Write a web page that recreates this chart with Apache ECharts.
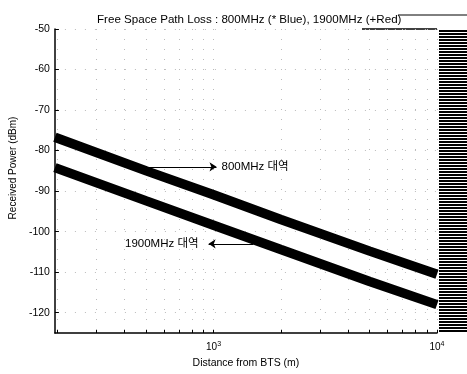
<!DOCTYPE html>
<html>
<head>
<meta charset="utf-8">
<script src="https://cdn.jsdelivr.net/npm/echarts@6/dist/echarts.min.js"></script>
<style>
  html, body { margin: 0; padding: 0; background: #fff; }
  #main { width: 467px; height: 374px; }
</style>
</head>
<body>
<div id="main"></div>
<script>
// distance from BTS (m), log axis
const dist = [195, 500, 1000, 2000, 5000, 10000];
// received power (dBm)
const rx800 = [-76.7, -85.0, -90.9, -97.0, -104.8, -110.5];
const rx1900 = [-84.2, -92.4, -98.4, -104.4, -112.3, -118.0];

const yTicks = [-120, -110, -100, -90, -80, -70, -60, -50];
const xLabels = [1000, 10000];
const xTicks = [200, 300, 400, 500, 600, 700, 800, 900, 1000, 2000, 3000, 4000, 5000, 6000, 7000, 8000, 9000, 10000];

// arrow annotations [x, y] in data units
const arrow800 = [[493, -84.0], [1031, -84.0]];
const arrow1900 = [[1507, -103.0], [950, -103.0]];

const FONT = 'Liberation Sans, Arial, "Noto Sans CJK KR", sans-serif';

// stripes for the scanned block at the right
let stripe = document.createElement('canvas');
stripe.width = 4;
stripe.height = 3;
let sc = stripe.getContext('2d');
sc.fillStyle = '#000';
sc.fillRect(0, 0, 4, 2);
sc.fillStyle = '#fff';
sc.fillRect(0, 2, 4, 1);

const toXY = (xs, ys) => xs.map((x, i) => [x, ys[i]]);

let chart = echarts.init(document.getElementById('main'), null, {renderer: 'canvas'});

let option = {
    backgroundColor: '#fff',
    animation: false,
    title: {
        text: 'Free Space Path Loss : 800MHz (* Blue), 1900MHz (+Red)',
        left: 92,
        top: 9,
        textStyle: {fontFamily: FONT, fontSize: 11.6, fontWeight: 'normal', color: '#000'}
    },
    grid: {left: 52, right: 30, top: 29, bottom: 41, containLabel: false},
    xAxis: {
        type: 'log',
        min: 195,
        max: 10000,
        name: 'Distance from BTS (m)',
        nameLocation: 'middle',
        nameGap: 25,
        nameTextStyle: {fontFamily: FONT, fontSize: 10.5, color: '#000'},
        axisLine: {lineStyle: {color: '#000', width: 1.5}},
        axisTick: {inside: true, length: 3, customValues: xTicks, lineStyle: {color: '#000'}},
        axisLabel: {
            customValues: xLabels,
            margin: 8,
            formatter: v => '{b|10}{s|' + Math.round(Math.log10(v)) + '}',
            rich: {
                b: {fontFamily: FONT, fontSize: 10, color: '#000'},
                s: {fontFamily: FONT, fontSize: 7, color: '#000', verticalAlign: 'top', padding: [0, 0, 6, 0]}
            }
        },
        splitLine: {show: true, lineStyle: {color: '#bbb', type: [1, 9], width: 1}},
        minorTick: {show: false}
    },
    yAxis: {
        type: 'value',
        min: -125,
        max: -50,
        name: 'Received Power (dBm)',
        nameLocation: 'middle',
        nameGap: 36,
        nameTextStyle: {fontFamily: FONT, fontSize: 10, color: '#000', padding: [0, 0, 0, 26]},
        axisLine: {show: true, lineStyle: {color: '#000', width: 1.5}},
        axisTick: {show: true, inside: true, length: 4, customValues: yTicks, lineStyle: {color: '#000'}},
        axisLabel: {customValues: yTicks, fontFamily: FONT, fontSize: 10.5, color: '#000', margin: 5},
        splitLine: {show: true, lineStyle: {color: '#bbb', type: [1, 9], width: 1}}
    },
    series: [
        {
            name: '800MHz',
            type: 'line',
            data: toXY(dist, rx800),
            showSymbol: false,
            lineStyle: {color: '#000', width: 9.5},
            markLine: {
                silent: true,
                symbol: ['none', 'arrow'],
                symbolSize: 7,
                lineStyle: {color: '#000', width: 1, type: 'solid'},
                label: {show: true, position: 'end', formatter: '800MHz 대역', fontFamily: FONT, fontSize: 11.5, color: '#000', distance: 5},
                data: [[{coord: arrow800[0]}, {coord: arrow800[1]}]]
            }
        },
        {
            name: '1900MHz',
            type: 'line',
            data: toXY(dist, rx1900),
            showSymbol: false,
            lineStyle: {color: '#000', width: 9.5},
            markLine: {
                silent: true,
                symbol: ['none', 'arrow'],
                symbolSize: 7,
                lineStyle: {color: '#000', width: 1, type: 'solid'},
                label: {show: true, position: 'end', formatter: '1900MHz 대역', fontFamily: FONT, fontSize: 11.5, color: '#000', distance: 10},
                data: [[{coord: arrow1900[0]}, {coord: arrow1900[1]}]]
            }
        }
    ],
    graphic: [
        {type: 'rect', left: 439, top: 30, shape: {width: 28, height: 303}, style: {fill: {image: stripe, repeat: 'repeat'}}, silent: true},
        {type: 'line', shape: {x1: 398, y1: 15, x2: 467, y2: 15}, style: {stroke: '#000', lineWidth: 1}, silent: true},
        {type: 'line', shape: {x1: 362, y1: 29, x2: 437, y2: 29}, style: {stroke: '#000', lineWidth: 1.5}, silent: true}
    ]
};

chart.setOption(option);
</script>
</body>
</html>
